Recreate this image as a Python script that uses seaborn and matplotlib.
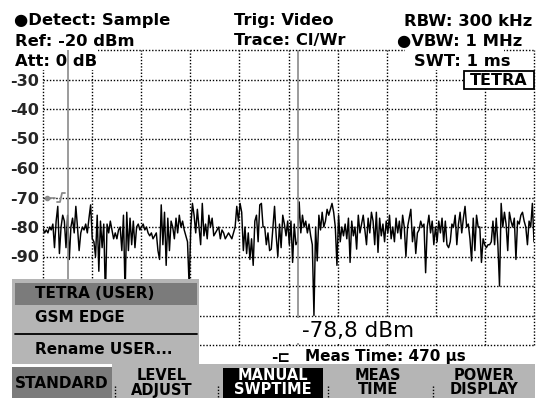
import numpy as np
import pandas as pd
import matplotlib
matplotlib.use("Agg")
import matplotlib.pyplot as plt
import seaborn as sns
from matplotlib.patches import Rectangle
from matplotlib.lines import Line2D

# ---------------- data ----------------
trace_dbm = [
    -80.5, -82, -81, -82, -80, -81, -79, -87, -78, -73, -89, -80, -76, -78, -87,
    -76, -91, -80, -77, -82, -73, -80, -88, -82, -80, -81, -79, -82, -77, -72.5,
    -84, -85, -90, -76, -95, -78, -87, -79, -104, -79, -82, -78, -81, -84, -82,
    -84, -81, -80, -88, -76, -103, -75, -88, -77, -86, -78, -87, -80, -79, -81,
    -80, -79, -81, -80, -82, -83, -82, -84, -83, -82, -88, -91, -72.5, -86, -75,
    -93, -77, -88, -78, -80, -84, -77, -82, -76, -80, -78, -81, -83, -85, -100,
    -80, -72, -76, -82, -74, -80, -86, -72, -83, -79, -84, -76, -80, -77, -83,
    -82, -81, -80, -84, -81, -82, -84, -83, -82, -83, -84, -82, -80, -73, -78,
    -72, -75, -88, -80, -89, -82, -91, -84, -93, -78, -76, -85, -72.5, -72, -80,
    -80, -86, -82, -88, -87.5, -80, -73, -83, -90, -79, -87, -76, -79, -83, -78,
    -86, -78, -92, -79, -86, -85, -71.5, -82, -76, -80, -78, -82, -79, -83, -86,
    -110, -80, -91.5, -76, -81, -75, -80, -78, -74, -76, -74, -72, -75, -80, -93,
    -76, -85, -80, -83, -79, -84, -77, -92, -78, -83, -80, -87.5, -76, -82, -79,
    -76, -81, -86, -77, -82, -75, -78, -86, -75, -88.6, -77, -83, -79, -85, -78,
    -82, -76, -84, -80, -85, -77, -82, -78, -84, -76, -80, -90, -80, -77, -74,
    -85, -80, -89, -82, -81, -78, -80, -79, -95.5, -80, -76, -82, -78, -86, -80,
    -85, -78, -82, -77, -85, -78, -86, -87, -85, -79, -80, -76, -86, -79, -75,
    -82, -77, -73, -80, -79, -84, -91.5, -77, -88, -76, -80, -80, -92, -84, -86,
    -87, -86, -86, -85, -78, -86, -77, -86, -100, -72, -80, -75, -79, -88, -75,
    -78, -80, -77, -91, -78, -79, -76, -75, -78, -80, -86, -78, -80, -72, -85,
]
y_levels = [-120, -110, -100, -90, -80, -70, -60, -50, -40, -30, -20]
y_labels = ["", "", "", "-90", "-80", "-70", "-60", "-50", "-40", "-30", ""]
x_divisions = list(range(11))
display_lines = [0.51, 5.19]
trigger_level = -70
header_left = ["\u25cfDetect: Sample", "Ref: -20 dBm"]
header_mid = ["Trig: Video", "Trace: Cl/Wr"]
menu_items = ["TETRA (USER)", "GSM EDGE", "Rename USER..."]
softkeys = [("LEVEL", "ADJUST"), ("MANUAL", "SWPTIME"), ("MEAS", "TIME"), ("POWER", "DISPLAY")]
result_text = "-78,8 dBm"
meas_time_text = "Meas Time: 470 \u00b5s"

# ---------------- setup ----------------
sns.set_theme(style="white")
plt.rcParams["font.family"] = ["DejaVu Sans"]

W, H = 542, 398
fig = plt.figure(figsize=(W / 100, H / 100), dpi=100)
fig.patch.set_facecolor("white")


def fx(px):
    return px / W


def fy(py):
    return 1 - py / H


ax = fig.add_axes([fx(43), fy(345), fx(534) - fx(43), fy(50) - fy(345)])
ax.set_facecolor("white")

n = len(trace_dbm)
df = pd.DataFrame({"x": np.arange(n) * 10.0 / (n - 1), "dbm": trace_dbm})
sns.lineplot(data=df, x="x", y="dbm", ax=ax, color="black", lw=1.05, zorder=2)

ax.set_xlim(0, 10)
ax.set_ylim(-120, -20)
ax.set_xticks(x_divisions)
ax.set_yticks(y_levels)
ax.set_yticklabels(y_labels, fontsize=11.5, fontweight="bold")
ax.grid(True, color="black", lw=1.0, linestyle=(0, (1, 1.3)))
for gl in ax.get_xgridlines() + ax.get_ygridlines():
    gl.set_clip_on(False)
ax.tick_params(axis="both", length=0, labelbottom=False, pad=3)
for s in ax.spines.values():
    s.set_visible(False)
ax.set_xlabel("")
ax.set_ylabel("")

# display (marker) lines
for xl in display_lines:
    ax.axvline(xl, color="#8a8a8a", lw=1.2, zorder=4)

bold = dict(fontweight="bold", color="black")


def ax_rect(x0, y0, x1, y1, fc, ec="none", lw=0, z=3):
    r = Rectangle((fx(x0), fy(y1)), fx(x1) - fx(x0), fy(y0) - fy(y1),
                  transform=fig.transFigure, facecolor=fc, edgecolor=ec,
                  linewidth=lw, clip_on=False, zorder=z)
    ax.add_patch(r)


def fig_rect(x0, y0, x1, y1, fc, z=5):
    r = Rectangle((fx(x0), fy(y1)), fx(x1) - fx(x0), fy(y0) - fy(y1),
                  transform=fig.transFigure, facecolor=fc, edgecolor="none", zorder=z)
    fig.add_artist(r)


# header texts
fig.text(fx(14), fy(21), header_left[0], fontsize=11.8, va="center", **bold)
fig.text(fx(15), fy(41), header_left[1], fontsize=11.8, va="center", **bold)
fig.text(fx(234), fy(21), header_mid[0], fontsize=11.8, va="center", **bold)
fig.text(fx(234), fy(41), header_mid[1], fontsize=11.8, va="center", **bold)
fig.text(fx(532), fy(21), "RBW: 300 kHz", fontsize=11.8, va="center", ha="right", **bold)
fig.text(fx(397), fy(41), "\u25cfVBW: 1 MHz", fontsize=11.8, va="center", **bold)

# Att and SWT with white backgrounds over the grid
ax_rect(0, 47, 98, 70, "white", z=3)
ax.text(fx(15), fy(62), "Att: 0 dB", transform=fig.transFigure, fontsize=11.8,
        va="center", zorder=3.5, **bold)
ax_rect(405, 47, 504, 70, "white", z=3)
ax.text(fx(414), fy(62), "SWT: 1 ms", transform=fig.transFigure, fontsize=11.8,
        va="center", zorder=3.5, **bold)

# TETRA box
ax_rect(464, 71, 534, 89, "white", ec="black", lw=1.3, z=5)
ax.text(fx(499), fy(80.5), "TETRA", transform=fig.transFigure, fontsize=11.5,
        va="center", ha="center", zorder=6, **bold)

# trigger level symbol
ax.plot([0.08, 0.24], [trigger_level, trigger_level], color="#8a8a8a", lw=1.2,
        zorder=3, clip_on=False)
ax.plot([0.08], [trigger_level], marker="o", ms=3, color="#8a8a8a", zorder=3, clip_on=False)
fig.add_artist(Line2D([fx(57), fx(60), fx(62), fx(65)], [fy(202), fy(202), fy(193), fy(193)],
                      color="#8a8a8a", lw=1.3, zorder=4))

# result readout with white background
ax_rect(282, 318, 440, 343, "white", z=5)
ax.text(fx(302), fy(331), result_text, transform=fig.transFigure,
        fontsize=15.5, va="center", ha="left", zorder=6, color="black")

# meas time line
fig.text(fx(271), fy(357), "-\u228f", fontsize=11, va="center", **bold)
fig.text(fx(305), fy(357), meas_time_text, fontsize=11, va="center", **bold)

# menu
fig_rect(12, 279, 199, 364, "#b5b5b5", z=5)
fig_rect(15, 283, 197, 305, "#7b7b7b", z=5.5)
fig.add_artist(Line2D([fx(15), fx(197)], [fy(334), fy(334)], color="black", lw=1.3, zorder=6))
for item, yy in zip(menu_items, [294, 317, 350]):
    fig.text(fx(35), fy(yy), item, fontsize=11, va="center", zorder=7, **bold)

# softkey bar
fig_rect(112, 364, 535, 398, "#b5b5b5", z=5)
fig_rect(12, 367, 112, 398, "#7b7b7b", z=5.5)
fig_rect(223, 368, 323, 398, "black", z=5.5)
fig.text(fx(62), fy(383), "STANDARD", fontsize=11, va="center", ha="center", zorder=7, **bold)
for (l1, l2), xc in zip(softkeys, [162, 273, 378, 484]):
    col = "white" if l1 == "MANUAL" else "black"
    fig.text(fx(xc), fy(376), l1, fontsize=10.5, va="center", ha="center", zorder=7,
             fontweight="bold", color=col)
    fig.text(fx(xc), fy(390), l2, fontsize=10.5, va="center", ha="center", zorder=7,
             fontweight="bold", color=col)
for xs in [115, 218, 328, 433]:
    fig.add_artist(Line2D([fx(xs), fx(xs)], [fy(386), fy(398)], color="black", lw=1.0,
                          linestyle=(0, (1, 1.3)), zorder=7))

fig.savefig("out.png", dpi=100, facecolor="white")
